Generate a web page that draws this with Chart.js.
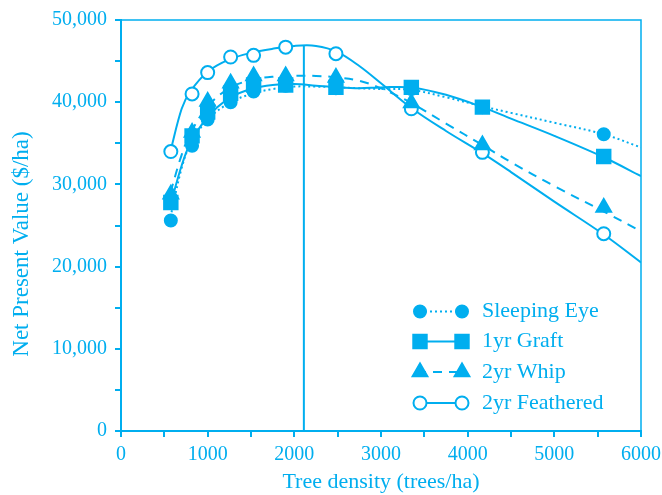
<!DOCTYPE html>
<html>
<head>
<meta charset="utf-8">
<script src="https://cdn.jsdelivr.net/npm/chart.js@4.4.0/dist/chart.umd.min.js"></script>
<style>
  html, body { margin: 0; padding: 0; background: #fff; }
  #wrap { width: 662px; height: 495px; }
</style>
</head>
<body>
<div id="wrap"><canvas id="npvChart" width="662" height="495"></canvas></div>
<script>
const CYAN = "#00AEEF";
const FONT = "'Liberation Serif', 'DejaVu Serif', serif";

// measured plots (trees/ha) and NPV ($/ha)
const density = [575, 820, 1000, 1265, 1530, 1900, 2480, 3350, 4170, 5570];
const sleepingEye = [25600, 34700, 37900, 40000, 41300, 42000, 41700, 41600, 39400, 36100];
const graft       = [27800, 35900, 38800, 41100, 42100, 42100, 41800, 41800, 39400, 33400];
const whip        = [28800, 36300, 40100, 42300, 43200, 43200, 43000, 39900, 34800, 27200];
const feathered   = [34000, 41000, 43600, 45500, 45700, 46700, 45900, 39200, 33900, 24000];

// fitted curves
const fitDensity     = [570, 700, 800, 1000, 1250, 1500, 1750, 2000, 2250, 2500, 2750, 3000, 3350, 3750, 4170, 4500, 5000, 5570, 6000];
const sleepingEyeFit = [26000, 32000, 34900, 37900, 39900, 41000, 41600, 41900, 41900, 41800, 41700, 41600, 41500, 40600, 39500, 38700, 37500, 36100, 34500];
const graftFit       = [27500, 32300, 35000, 38200, 40500, 41600, 42100, 42200, 42000, 41800, 41700, 41800, 41800, 40900, 39400, 38000, 35900, 33300, 31000];
const whipFit        = [29000, 33600, 36200, 39500, 41700, 42700, 43100, 43200, 43200, 43000, 42600, 41700, 39900, 37400, 34800, 32700, 29800, 26700, 24300];
const featheredFit   = [34000, 39200, 41300, 43700, 45200, 46000, 46500, 46850, 46850, 46100, 44400, 42300, 39300, 36500, 33800, 31500, 27900, 23900, 20500];

// optimum density marker line
const optimumX = [2110, 2110];
const optimumY = [0, 46950];

const legendLabels = ["Sleeping Eye", "1yr Graft", "2yr Whip", "2yr Feathered"];
const yTitle = "Net Present Value ($/ha)";

const pts = (xs, ys) => xs.map((x, i) => ({ x: x, y: ys[i] }));

function curve(ys, dash) {
    return {
        data: pts(fitDensity, ys),
        borderColor: CYAN,
        borderWidth: 2,
        borderDash: dash,
        pointRadius: 0,
        tension: 0.35,
        fill: false,
        order: 10
    };
}

function markers(ys, style, radius, fillColor, order) {
    return {
        data: pts(density, ys),
        showLine: false,
        pointStyle: style,
        pointRadius: radius,
        pointBackgroundColor: fillColor,
        pointBorderColor: CYAN,
        pointBorderWidth: 2,
        order: order
    };
}

const curves = [
    curve(sleepingEyeFit, [2, 3]),
    curve(graftFit, []),
    curve(whipFit, [9, 7]),
    curve(featheredFit, [])
];
const marks = [
    markers(sleepingEye, "circle", 6, CYAN, 2),
    markers(graft, "rect", 9.5, CYAN, 1),
    markers(whip, "triangle", 8.5, CYAN, 0),
    markers(feathered, "circle", 6.5, "#ffffff", 3)
];

// draws the top/right frame, the y title and the legend with line + markers
const framePlugin = {
    id: "frameLegend",
    afterDraw(chart) {
        const ctx = chart.ctx;
        const a = chart.chartArea;
        ctx.save();
        ctx.strokeStyle = CYAN;
        ctx.lineWidth = 1.5;
        ctx.beginPath();
        ctx.moveTo(a.left, a.top);
        ctx.lineTo(a.right, a.top);
        ctx.lineTo(a.right, a.bottom);
        ctx.stroke();

        // y axis title, sits a bit below the middle in the original
        ctx.save();
        ctx.translate(22, 244);
        ctx.rotate(-Math.PI / 2);
        ctx.fillStyle = CYAN;
        ctx.font = "23px " + FONT;
        ctx.textAlign = "center";
        ctx.textBaseline = "middle";
        ctx.fillText(yTitle, 0, 0);
        ctx.restore();

        const rowsY = [311.5, 341.5, 372, 403];
        const x0 = 420, x1 = 462, tx = 482;
        legendLabels.forEach((label, i) => {
            const c = curves[i], m = marks[i];
            const y = rowsY[i];
            ctx.setLineDash(c.borderDash);
            ctx.lineDashOffset = i === 2 ? 3 : 0;
            ctx.lineWidth = 2;
            ctx.strokeStyle = CYAN;
            ctx.beginPath();
            ctx.moveTo(x0, y);
            ctx.lineTo(x1, y);
            ctx.stroke();
            ctx.setLineDash([]);
            ctx.fillStyle = m.pointBackgroundColor;
            ctx.strokeStyle = CYAN;
            ctx.lineWidth = 2;
            const opts = { pointStyle: m.pointStyle, radius: m.pointRadius, rotation: 0, borderWidth: 2 };
            Chart.helpers.drawPoint(ctx, opts, x0, y);
            Chart.helpers.drawPoint(ctx, opts, x1, y);
            ctx.fillStyle = CYAN;
            ctx.font = "22px " + FONT;
            ctx.textBaseline = "middle";
            ctx.textAlign = "left";
            ctx.fillText(label, tx, y);
        });
        ctx.restore();
    }
};

new Chart(document.getElementById("npvChart"), {
    type: "line",
    data: {
        datasets: [
            ...curves,
            {
                data: pts(optimumX, optimumY),
                borderColor: CYAN,
                borderWidth: 2,
                pointRadius: 0,
                order: 9
            },
            ...marks
        ]
    },
    options: {
        responsive: false,
        animation: false,
        layout: {
            padding: { top: 18, right: 21, bottom: 0, left: 0 }
        },
        plugins: {
            legend: { display: false },
            tooltip: { enabled: false }
        },
        scales: {
            x: {
                type: "linear",
                min: 0,
                max: 6000,
                afterFit(scale) {
                    scale.height = 64;
                    scale.paddingRight = 0;
                    scale.paddingLeft = 0;
                },
                border: { display: true, color: CYAN, width: 2 },
                grid: { drawOnChartArea: false, drawTicks: true, tickLength: 6, color: CYAN, lineWidth: 2 },
                ticks: {
                    stepSize: 500,
                    color: CYAN,
                    padding: 6,
                    maxRotation: 0,
                    autoSkip: false,
                    font: { family: FONT, size: 20 },
                    callback: v => (v % 1000 === 0 ? String(v) : "")
                },
                title: {
                    display: true,
                    text: "Tree density (trees/ha)",
                    color: CYAN,
                    padding: { top: 0, bottom: 0 },
                    font: { family: FONT, size: 22 }
                }
            },
            y: {
                min: 0,
                max: 50000,
                afterFit(scale) { scale.width = 121; },
                border: { display: true, color: CYAN, width: 2 },
                grid: { drawOnChartArea: false, drawTicks: true, tickLength: 6, color: CYAN, lineWidth: 2 },
                ticks: {
                    stepSize: 5000,
                    color: CYAN,
                    padding: 8,
                    autoSkip: false,
                    font: { family: FONT, size: 20 },
                    callback: v => (v % 10000 === 0 ? v.toLocaleString("en-US") : "")
                },
                title: { display: false }
            }
        }
    },
    plugins: [framePlugin]
});
</script>
</body>
</html>
